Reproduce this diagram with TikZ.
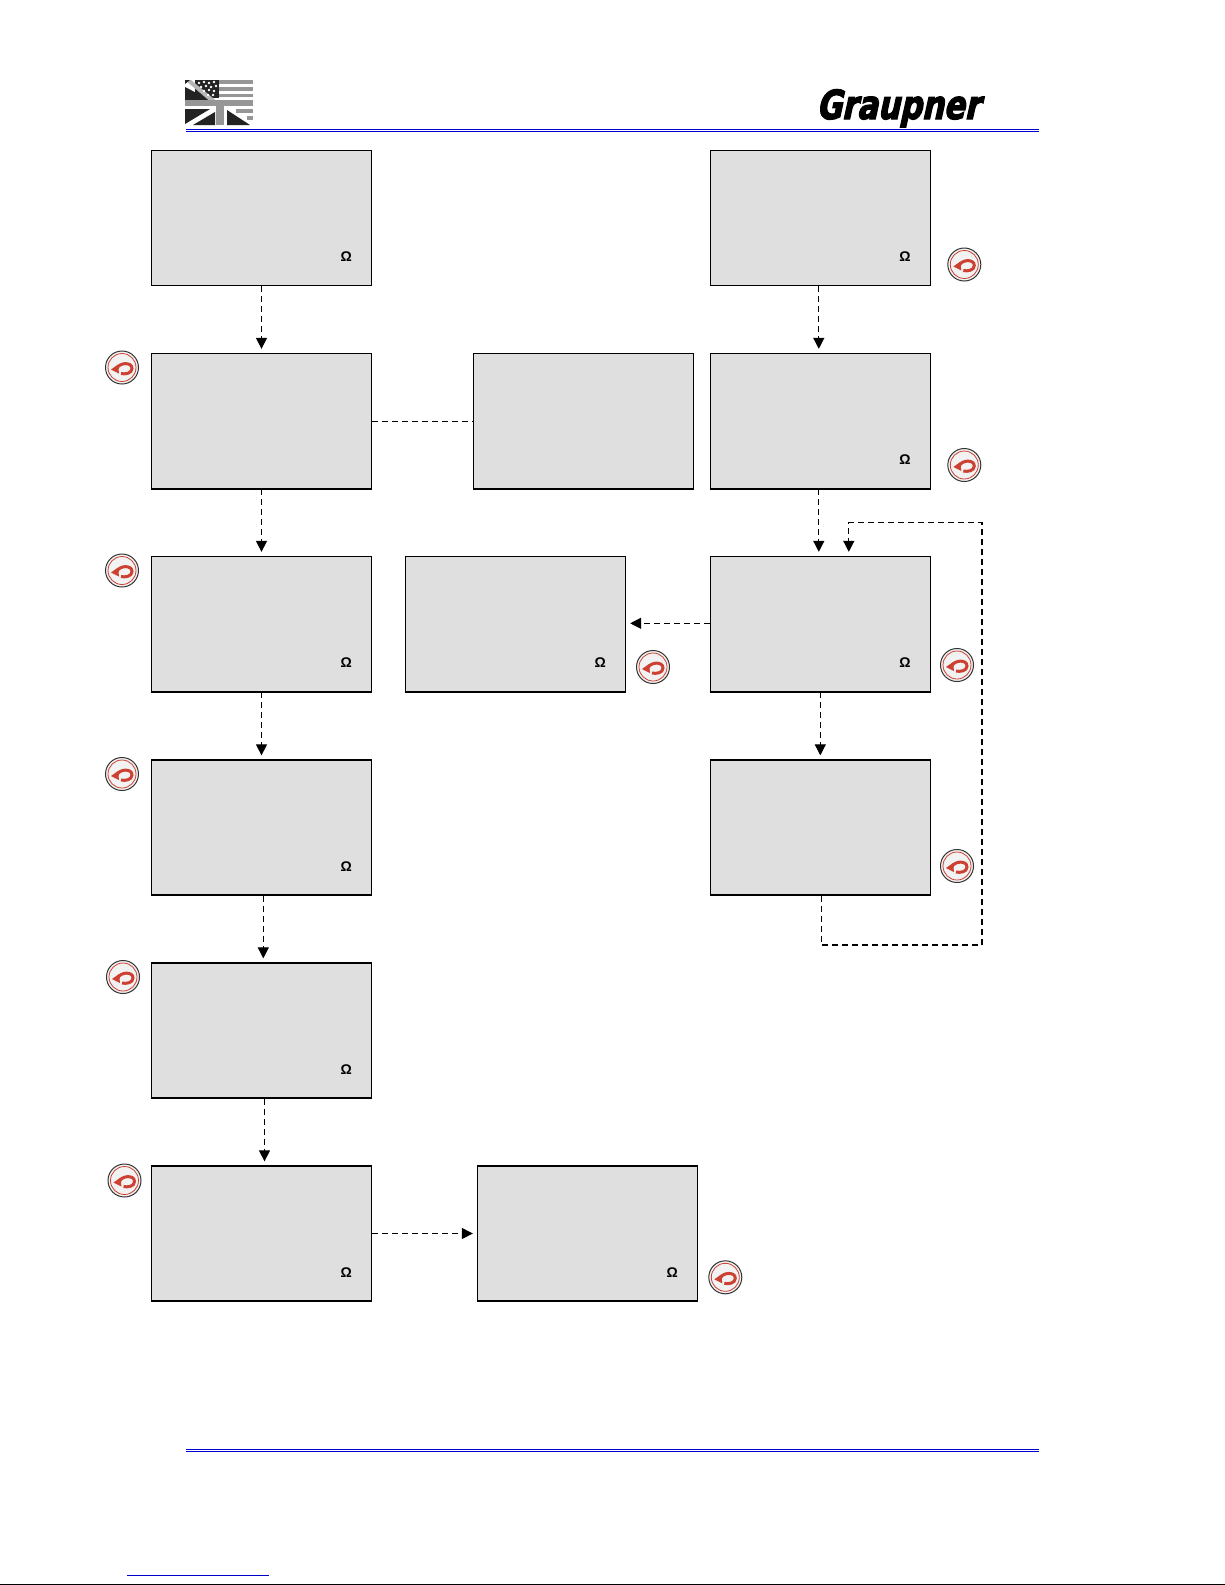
\documentclass[tikz,border=0pt]{standalone}
\usepackage{fontspec}
\setmainfont{Liberation Sans}
\newfontfamily\logofont[FakeSlant=0.22, FakeStretch=0.77, FakeBold=3]{DejaVu Sans}
\usepackage{xcolor}
\usetikzlibrary{arrows.meta, positioning}
\definecolor{panelgray}{RGB}{223,223,223}
\definecolor{rulecol}{RGB}{0,0,204}
\definecolor{backred}{RGB}{205,65,50}
\definecolor{flagdark}{RGB}{35,35,35}
\definecolor{flaggray}{RGB}{150,150,150}

\begin{document}
\begin{tikzpicture}[
          x=0.5pt, y=-0.5pt,
          panel/.style={draw=black, fill=panelgray, line width=0.65pt, inner sep=0pt,
                        minimum width=110pt, minimum height=67.5pt},
          heavy/.style={panel, append after command={
                        (\tikzlastnode.south west) edge[line width=1.1pt] (\tikzlastnode.south east)}},
          ohm/.style={font=\bfseries\fontsize{7}{8}\selectfont, inner sep=0pt},
          flow/.style={-{Triangle[length=5.5pt, width=5.5pt]}, line width=0.6pt,
                       dash pattern=on 3pt off 2pt, shorten >=2pt},
          plainflow/.style={line width=0.5pt, dash pattern=on 3pt off 2pt},
          blueline/.style={draw=rulecol, line width=0.55pt},
          backbtn/.style={circle, draw=black!80, fill=black!5, line width=0.5pt, inner sep=0pt,
                          minimum size=16.5pt, path picture={
            \draw[backred, line width=0.4pt] (path picture bounding box.center) circle (7pt);
            \begin{scope}[shift={(path picture bounding box.center)}]
              \draw[backred, line width=1.5pt] (-5,1) .. controls (-3,-5) and (10,-6) .. (10,1)
                .. controls (10,6) and (3,7) .. (-1,6);
              \fill[backred] (-11,2) -- (-4,-3) -- (-3,6) -- cycle;
            \end{scope}}},
        ]
          \useasboundingbox (0,0) rectangle (1225,1585);

          % header and footer
          \draw[blueline] (186,129.5) -- (1039,129.5);
          \draw[blueline] (186,131.7) -- (1039,131.7);
          \draw[blueline] (186,1449.3) -- (1039,1449.3);
          \draw[blueline] (186,1451.7) -- (1039,1451.7);
          \draw[blueline] (127,1575.3) -- (269,1575.3);
          \draw[line width=0.6pt] (0,1584.2) -- (1225,1584.2);
          \node[font=\logofont\bfseries\fontsize{20}{20}\selectfont, inner sep=0pt,
                anchor=base west] (logo) at (816,119) {Graupner};

          % flag
          \fill[flaggray] (219,80) rectangle (253,84);
          \fill[flaggray] (219,87) rectangle (253,91);
          \fill[flaggray] (219,94) rectangle (253,97);
          \fill[flagdark] (185,87) -- (212,101) -- (185,101) -- cycle;
          \fill[flagdark] (195,80) rectangle (219,98);
          \fill[flaggray!70] (185,80) -- (191,80) -- (219,103) -- (212,103) -- cycle;
          \fill[flagdark] (185,80) -- (190,80) -- (185,84) -- cycle;
          \foreach \sx/\sy in {199/83,204/82,209/83,214/82,201/87,206/86,211/87,216/86,
                               204/91,209/90,214/91,208/95,213/95}
            \fill[white] (\sx,\sy) circle (0.7pt);
          \fill[flaggray] (185,100) rectangle (253,106);
          \fill[flagdark] (185,109) -- (210,109) -- (185,124) -- cycle;
          \fill[flagdark] (215,112) -- (215,125) -- (193,125) -- cycle;
          \fill[flaggray] (216,100) rectangle (224,125);
          \fill[flagdark] (227,110) -- (227,125) -- (250,125) -- cycle;
          \fill[flaggray] (236,109) rectangle (253,113);
          \fill[flaggray] (247,116) rectangle (253,120);

          % left column
          \node[panel] (l1) at (261.5,218) {};
          \node[heavy] (l2) at (261.5,421) {};
          \node[heavy] (l3) at (261.5,624) {};
          \node[panel] (l4) at (261.5,827.5) {};
          \node[panel] (l5) at (261.5,1030.5) {};
          \node[panel] (l6) at (261.5,1233.5) {};
          % middle boxes
          \node[heavy] (m2) at (583.5,421) {};
          \node[heavy] (m3) at (515.5,624) {};
          \node[panel] (m6) at (587.5,1233.5) {};
          % right column
          \node[panel] (r1) at (820.3,218) {};
          \node[heavy] (r2) at (820.3,421) {};
          \node[heavy] (r3) at (820.3,624) {};
          \node[panel] (r4) at (820.3,827.5) {};

          \node[ohm] (o1) at ([shift={(-26,-29.5)}]l1.south east) {Ω};
          \node[ohm] (o2) at ([shift={(-26,-29.5)}]l3.south east) {Ω};
          \node[ohm] (o3) at ([shift={(-26,-29.5)}]l4.south east) {Ω};
          \node[ohm] (o4) at ([shift={(-26,-29.5)}]l5.south east) {Ω};
          \node[ohm] (o5) at ([shift={(-26,-29.5)}]l6.south east) {Ω};
          \node[ohm] (o6) at ([shift={(-26,-29.5)}]m3.south east) {Ω};
          \node[ohm] (o7) at ([shift={(-26,-29.5)}]m6.south east) {Ω};
          \node[ohm] (o8) at ([shift={(-26,-29.5)}]r1.south east) {Ω};
          \node[ohm] (o9) at ([shift={(-26,-29.5)}]r2.south east) {Ω};
          \node[ohm] (o10) at ([shift={(-26,-29.5)}]r3.south east) {Ω};

          \node[backbtn] (b1) at (122,367.5) {};
          \node[backbtn] (b2) at (122,570.5) {};
          \node[backbtn] (b3) at (122,774) {};
          \node[backbtn] (b4) at (123,977) {};
          \node[backbtn] (b5) at (124.5,1180.5) {};
          \node[backbtn] (b6) at (653,667) {};
          \node[backbtn] (b7) at (725.3,1277.3) {};
          \node[backbtn] (b8) at (964.3,264.5) {};
          \node[backbtn] (b9) at (964.3,465) {};
          \node[backbtn] (b10) at (957,665) {};
          \node[backbtn] (b11) at (957,866) {};

          \draw[flow] (l1) -- (l2);
          \draw[flow] (l2) -- (l3);
          \draw[flow] (l3) -- (l4);
          \draw[flow] ([xshift=0.9pt]l4.south) -- ([xshift=0.9pt]l5.north);
          \draw[flow] ([xshift=1.5pt]l5.south) -- ([xshift=1.5pt]l6.north);
          \draw[plainflow] (l2) -- (m2);
          \draw[flow] (l6) -- (m6);
          \draw[flow] ([xshift=-0.75pt]r1.south) -- ([xshift=-0.75pt]r2.north);
          \draw[flow] ([xshift=-0.75pt]r2.south) -- ([xshift=-0.75pt]r3.north);
          \draw[flow] (r3) -- (r4);
          \draw[flow] ([yshift=0.35pt]r3.west) -- ([yshift=0.35pt]m3.east);
          \coordinate (loopa) at (982,945);
          \coordinate (loopb) at (982,522.7);
          \draw[flow] ([xshift=0.75pt]r4.south) |- (loopa) -- (loopb) -| ([xshift=14.25pt]r3.north);
        \end{tikzpicture}
\end{document}
